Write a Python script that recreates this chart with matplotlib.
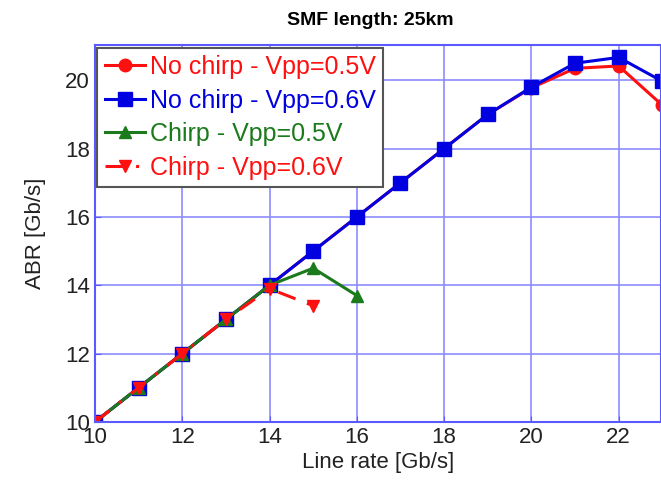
import matplotlib.pyplot as plt

plt.rcParams['font.family'] = ['Liberation Sans', 'DejaVu Sans']

# Line rate [Gb/s]
rate = [10, 11, 12, 13, 14, 15, 16, 17, 18, 19, 20, 21, 22, 23]
nochirp_05 = [10, 11, 12, 13, 14, 15, 16, 17, 18, 19, 19.78, 20.35, 20.42, 19.27]
nochirp_06 = [10, 11, 12, 13, 14, 15, 16, 17, 18, 19, 19.8, 20.5, 20.67, 19.97]
rate_chirp05 = [10, 11, 12, 13, 14, 15, 16]
chirp_05 = [10, 11, 12, 13, 14, 14.5, 13.7]
rate_chirp06 = [10, 11, 12, 13, 14, 15]
chirp_06 = [10, 11, 12, 13, 13.9, 13.4]

red = '#ff1010'
blue = '#0000e0'
green = '#1b7a1b'
gridc = '#8c8cff'

fig = plt.figure(figsize=(6.61, 4.8), dpi=100)
ax = fig.add_axes([0.1437, 0.121, 0.8563, 0.785])

ax.plot(rate, nochirp_05, color=red, marker='o', markersize=9, lw=2.2, label='No chirp - Vpp=0.5V')
ax.plot(rate, nochirp_06, color=blue, marker='s', markersize=10, lw=2.2, label='No chirp - Vpp=0.6V')
ax.plot(rate_chirp05, chirp_05, color=green, marker='^', markersize=9, lw=2.2, label='Chirp - Vpp=0.5V')
ax.plot(rate_chirp06, chirp_06, color=red, marker='v', markersize=9, lw=2.2, ls=(0, (6, 4, 1, 4)), label='Chirp - Vpp=0.6V')

ax.set_xlim(10, 22.97)
ax.set_ylim(10, 21.03)
ax.set_xticks([10, 12, 14, 16, 18, 20, 22])
ax.set_yticks([10, 12, 14, 16, 18, 20])
ax.grid(True, color=gridc, lw=1.2)
ax.set_axisbelow(True)
for s in ax.spines.values():
    s.set_color('#5a5aff')
    s.set_linewidth(1.5)
ax.tick_params(direction='in', colors='#5a5aff', labelcolor='#222222', labelsize=16, length=4)

ax.set_xlabel('Line rate [Gb/s]', fontsize=16, color='#222222', labelpad=3)
ax.set_ylabel('ABR [Gb/s]', fontsize=16, color='#222222', labelpad=14)
fig.suptitle('SMF length: 25km', fontsize=14, fontweight='bold', x=0.56, y=0.975)

leg = ax.legend(loc='upper left', fontsize=18, handlelength=1.6, handletextpad=0.2,
                borderaxespad=0.1, borderpad=0.3, labelspacing=0.38, fancybox=False,
                framealpha=1, edgecolor='#555555')
leg.get_frame().set_linewidth(1.5)
for txt, line in zip(leg.get_texts(), leg.get_lines()):
    txt.set_color(line.get_color())

fig.savefig('out.png', dpi=100)
